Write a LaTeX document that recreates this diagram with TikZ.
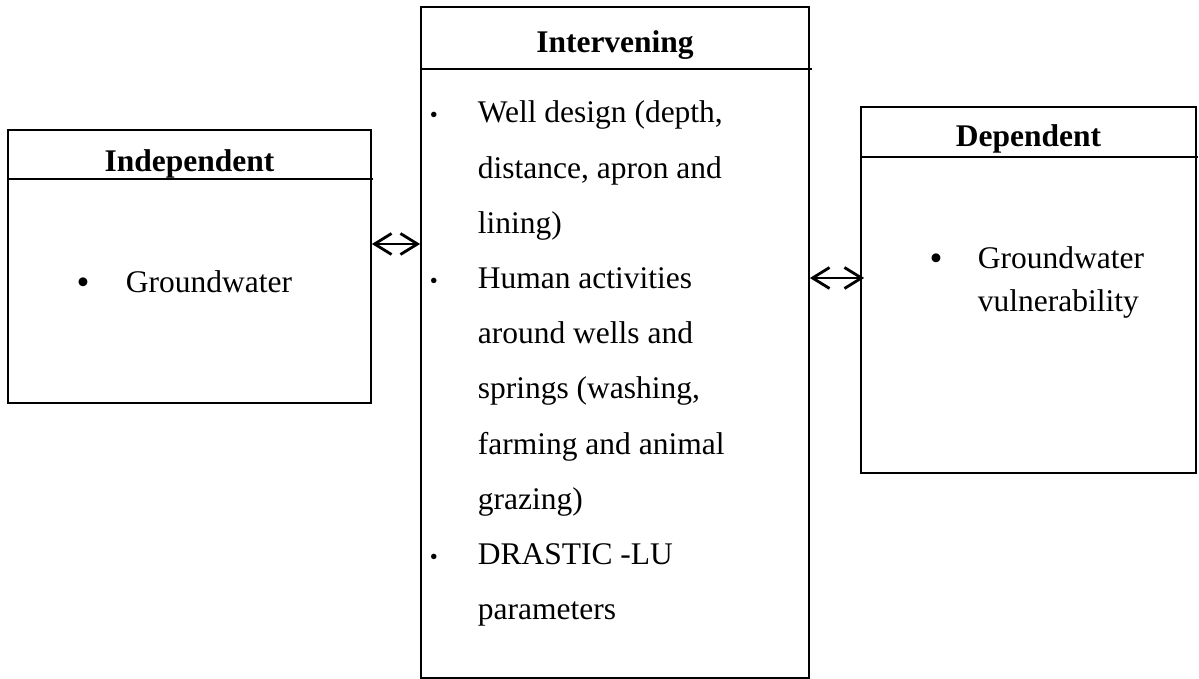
\documentclass[tikz,border=0pt]{standalone}
\usepackage{fontspec}
\setmainfont{Liberation Serif}
\usetikzlibrary{arrows.meta}

\newcommand{\smalldot}{{\fontsize{6.5}{6.5}\selectfont\textbullet}}

\begin{document}
\begin{tikzpicture}[>={Straight Barb[length=1.7mm,width=2.1mm]}, line width=0.5pt,
    box/.style={draw, rectangle, inner sep=0pt},
    head/.style={anchor=base, inner sep=0pt, font=\fontsize{8.96}{10}\selectfont\bfseries},
    body/.style={anchor=base west, inner sep=0pt, font=\fontsize{8.96}{15.7}\selectfont},
    bigdot/.style={anchor=base, inner sep=0pt, font=\fontsize{10.5}{11}\selectfont}]
    \useasboundingbox (0,0) rectangle (11.99,6.79);

    % Boxes
    \node[box, minimum width=3.63cm, minimum height=2.73cm] (indep) at (1.895,4.125) {};
    \node[box, minimum width=3.88cm, minimum height=6.71cm] (interv) at (6.15,3.365) {};
    \node[box, minimum width=3.35cm, minimum height=3.66cm] (dep) at (10.285,3.89) {};

    % Header lines
    \draw[line width=0.65pt] (0.08,5.00) -- (3.73,5.00);
    \draw[line width=0.65pt] (4.21,6.10) -- (8.12,6.10);
    \draw[line width=0.65pt] (8.61,5.22) -- (11.98,5.22);

    % Headings
    \node[head] (indeph) at (1.895,5.07) {Independent};
    \node[head] (intervh) at (6.15,6.26) {Intervening};
    \node[head] (deph) at (10.285,5.32) {Dependent};

    % Independent
    \node[bigdot] (gwdot) at (0.83,3.84) {\textbullet};
    \node[body] (gwtext) at (1.25,3.86) {Groundwater};

    % Intervening
    \node[body] (acts) at (4.29,5.56) {\begin{tabular}[t]{@{}l@{}l@{}}
        \makebox[0.48cm][l]{\smalldot} & Well design (depth,\\
        & distance, apron and\\
        & lining)\\
        \makebox[0.48cm][l]{\smalldot} & Human activities\\
        & around wells and\\
        & springs (washing,\\
        & farming and animal\\
        & grazing)\\
        \makebox[0.48cm][l]{\smalldot} & DRASTIC -LU\\
        & parameters
    \end{tabular}};

    % Dependent
    \node[bigdot] (vdot) at (9.36,4.08) {\textbullet};
    \node[body, font=\fontsize{8.96}{12.23}\selectfont] (vtext) at (9.77,4.10) {\begin{tabular}[t]{@{}l@{}}
        Groundwater\\
        vulnerability
    \end{tabular}};

    % Links
    \coordinate (la) at ([yshift=2.25mm]indep.east);
    \draw[<->, line width=0.8pt] (la) -- (la -| interv.west);
    \coordinate (ra) at (interv.east |- 0,4.01);
    \draw[<->, line width=0.8pt, shorten >=-0.4mm] (ra) -- (ra -| dep.west);
\end{tikzpicture}
\end{document}
